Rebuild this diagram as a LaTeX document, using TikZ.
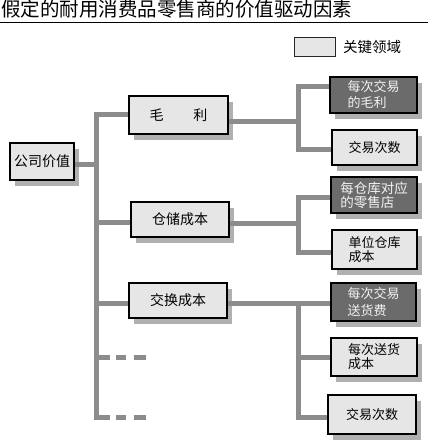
\documentclass[tikz,border=0pt]{standalone}
\usepackage{fontspec}
\setmainfont{Noto Sans CJK SC}
\usetikzlibrary{shadows}
\definecolor{boxfill}{HTML}{E6E6E6}
\definecolor{darkc}{HTML}{6B6B6B}
\definecolor{shadowc}{HTML}{B0B0B0}
\definecolor{connc}{HTML}{8C8C8C}
\definecolor{keytext}{HTML}{F2F2F2}
\begin{document}
\begin{tikzpicture}[x=1pt,y=-1pt,
  box/.style={draw=black, line width=1.1pt, fill=boxfill, inner sep=0pt,
    general shadow={fill=shadowc, shadow xshift=5pt, shadow yshift=-6pt}},
  main/.style={box, font=\fontsize{14}{16}\selectfont},
  sub/.style={box, font=\fontsize{13}{16}\selectfont, align=left},
  key/.style={sub, fill=darkc, text=keytext},
  conn/.style={draw=connc, line width=5pt}]
\useasboundingbox (0,0) rectangle (428,443);
% title
\node[anchor=base west, font=\fontsize{19.5}{20}\selectfont, inner sep=0pt] (title) at (1,16.5) {假定的耐用消费品零售商的价值驱动因素};
\coordinate (rl) at (0,22.7);
\coordinate (rr) at (428,22.7);
\draw[line width=1.3pt] (rl) -- (rr);
% legend
\node[draw=black!85, line width=1pt, fill=boxfill, minimum width=41pt, minimum height=19pt, inner sep=0pt] (lg) at (314.5,47.5) {};
\node[anchor=west, inner sep=0pt, font=\fontsize{14.5}{16}\selectfont] (lgt) at (343,47) {关键领域};
% main nodes
\node[main, minimum width=64pt, minimum height=37pt] (cv) at (42,161.5) {公司价值};
\node[main, minimum width=99pt, minimum height=38pt] (ml) at (178.5,115) {毛\hspace{30pt}利};
\node[main, minimum width=98pt, minimum height=35pt] (cc) at (180,219.5) {仓储成本};
\node[main, minimum width=98pt, minimum height=35pt] (jh) at (178,300.5) {交换成本};
% right nodes
\node[key, minimum width=87pt, minimum height=36pt] (r1) at (373.5,95) {每次交易\\的毛利};
\node[sub, minimum width=85pt, minimum height=35pt] (r2) at (374.5,147.5) {交易次数};
\node[key, minimum width=86pt, minimum height=36pt, font=\fontsize{13.5}{14}\selectfont] (r3) at (374,195) {每仓库对应\\的零售店};
\node[sub, minimum width=85pt, minimum height=39pt, font=\fontsize{13}{14}\selectfont] (r4) at (374.5,249.5) {单位仓库\\成本};
\node[key, minimum width=85pt, minimum height=38pt, font=\fontsize{13}{17}\selectfont] (r5) at (373.5,302) {每次交易\\送货费};
\node[sub, minimum width=86pt, minimum height=38pt, font=\fontsize{13}{14}\selectfont] (r6) at (374,357) {每次送货\\成本};
\node[sub, minimum width=88pt, minimum height=39pt] (r7) at (372,414.5) {交易次数};
% trunk
\coordinate (t) at (96,0);
\coordinate (tb) at (96,417);
\coordinate (tm) at (96,357);
\coordinate (d1) at (146,357);
\coordinate (d2) at (146,417);
\draw[conn] (ml.west) -- (ml.west -| t) -- ([yshift=-2.5pt]tb);
\draw[conn] ([yshift=-3pt]cv.east) -- ([yshift=-3pt]cv.east -| t);
\draw[conn] ([yshift=-3pt]cc.west) -- ([yshift=-3pt]cc.west -| t);
\draw[conn] ([yshift=-2.5pt]jh.west) -- ([yshift=-2.5pt]jh.west -| t);
\draw[conn, dash pattern=on 14pt off 6pt on 10pt off 8pt on 12pt off 10pt] (tm) -- (d1);
\draw[conn, dash pattern=on 14pt off 6pt on 10pt off 8pt on 12pt off 10pt] (tb) -- (d2);
% branches
\coordinate (b) at (298,0);
\draw[conn] ([yshift=-7pt]ml.east) -- ([yshift=-7pt]ml.east -| b);
\draw[conn] ([yshift=8pt]r1.west) -- ([yshift=8pt]r1.west -| b) -- ([yshift=-2.5pt]r2.west -| b) -- ([yshift=-2.5pt]r2.west);
\draw[conn] ([yshift=-4pt]cc.east) -- ([yshift=-4pt]cc.east -| b);
\draw[conn] ([yshift=-3pt]r3.west) -- ([yshift=-3pt]r3.west -| b) -- ([yshift=-2.5pt]r4.west -| b) -- ([yshift=-2.5pt]r4.west);
\draw[conn] ([yshift=-2.5pt]jh.east) -- ([yshift=-2.5pt]jh.east -| b);
\draw[conn] ([yshift=-1pt]r5.west) -- ([yshift=-1pt]r5.west -| b) -- ([yshift=-2.5pt]r7.west -| b) -- ([yshift=-2.5pt]r7.west);
\draw[conn] (r6.west) -- (r6.west -| b);
\end{tikzpicture}
\end{document}
